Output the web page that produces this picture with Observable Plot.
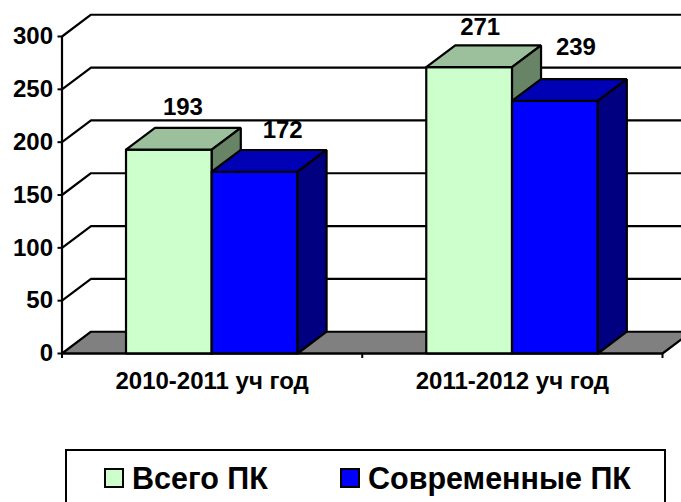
<!DOCTYPE html>
<html lang="ru">
<head>
<meta charset="utf-8">
<script src="https://cdn.jsdelivr.net/npm/d3@7"></script>
<script src="https://cdn.jsdelivr.net/npm/@observablehq/plot@0.6"></script>
<style>
html,body{margin:0;padding:0;background:#fff;width:681px;height:502px;overflow:hidden;font-family:"Liberation Sans",Arial,sans-serif;}
svg{display:block;}
#legend{position:relative;box-sizing:border-box;margin:4px 0 0 65px;width:601px;height:70px;border:2px solid #000;font-weight:bold;font-size:30.5px;color:#000;}
#legend .item{position:absolute;top:12px;display:flex;align-items:center;line-height:30px;white-space:nowrap;}
#legend .sw{box-sizing:border-box;width:20px;height:20px;border:2px solid #000;margin-right:8px;}
</style>
</head>
<body>
<div id="chart"></div>
<div id="legend"></div>
<script>
const categories = ["2010-2011 уч год", "2011-2012 уч год"];
const seriesNames = ["Всего ПК", "Современные ПК"];
const allPC = [193, 271];
const modernPC = [172, 239];
const yTicks = [0, 50, 100, 150, 200, 250, 300];

// Colours: front, top, side of each series
const palette = [
  {front: "#CCFFCC", top: "#9CC09C", side: "#688467"},
  {front: "#0000FF", top: "#0000B4", side: "#000080"}
];

// 3D look expressed in scale units
const depthX = 29 / 300.25, depthY = 20.6;
const gap = 0.2132, barW = 0.2857;

const poly = (pts, fill) => Plot.line([...pts, pts[0]], {
  x: d => d[0], y: d => d[1], fill, stroke: "#000", strokeWidth: 2.2,
  strokeLinejoin: "miter", curve: "linear"
});

const box = (x0, x1, v, c) => [
  poly([[x0, 0], [x1, 0], [x1, v], [x0, v]], c.front),
  poly([[x0, v], [x1, v], [x1 + depthX, v + depthY], [x0 + depthX, v + depthY]], c.top),
  poly([[x1, 0], [x1 + depthX, depthY], [x1 + depthX, v + depthY], [x1, v]], c.side)
];

const series = [allPC, modernPC];
const bars = categories.flatMap((_, i) => series.flatMap((vals, s) => {
  const x0 = i + gap + s * barW;
  return box(x0, x0 + barW, vals[i], palette[s]);
}));

const labelNudge = [
  [{dx: 14, dy: -42}, {dx: 28, dy: -41}],
  [{dx: 11, dy: -40}, {dx: 21, dy: -54}]
];
const valueLabels = categories.flatMap((_, i) => series.map((vals, s) => Plot.text([vals[i]], {
  x: i + gap + (s + 0.5) * barW,
  y: d => d,
  text: d => String(d),
  dx: labelNudge[i][s].dx,
  dy: labelNudge[i][s].dy,
  fontSize: 24,
  fontWeight: "bold",
  fill: "#000"
})));

const plot = Plot.plot({
  width: 681,
  height: 445,
  marginLeft: 61.5,
  marginRight: 19,
  marginTop: 36,
  marginBottom: 92,
  style: {fontFamily: "'Liberation Sans', Arial, sans-serif", background: "#fff", color: "#000"},
  x: {type: "linear", domain: [0, 2]},
  y: {domain: [0, 300]},
  marks: [
    poly([[0, 0], [depthX, depthY], [2 + depthX, depthY], [2, 0]], "#808080"),
    ...yTicks.filter(t => t > 0).map(t => Plot.line(
      [[0, t], [depthX, t + depthY], [2 + depthX, t + depthY]],
      {x: d => d[0], y: d => d[1], stroke: "#000", strokeWidth: 2.2})),
    Plot.ruleX([0], {y1: 0, y2: 300, stroke: "#000", strokeWidth: 2.2}),
    ...bars,
    Plot.ruleY([0], {x1: 0, x2: 2, stroke: "#000", strokeWidth: 2.2}),
    Plot.axisY({ticks: yTicks, label: null, tickSize: 4, tickPadding: 5, fontSize: 24, fontWeight: "bold", strokeWidth: 2, stroke: "#000", fill: "#000"}),
    Plot.axisX({ticks: [0, 1, 2], label: null, tickSize: 5, tickFormat: () => "", strokeWidth: 2, stroke: "#000"}),
    Plot.text(categories, {
      x: (d, i) => i + 0.5, y: 0, text: d => d, dy: 28,
      fontSize: 24, fontWeight: "bold", fill: "#000"
    }),
    ...valueLabels
  ]
});
document.getElementById("chart").appendChild(plot);

const legend = document.getElementById("legend");
const lefts = [37, 273];
seriesNames.forEach((name, i) => {
  const item = document.createElement("div");
  item.className = "item";
  item.style.left = lefts[i] + "px";
  const sw = document.createElement("span");
  sw.className = "sw";
  sw.style.background = palette[i].front;
  const t = document.createElement("span");
  t.textContent = name;
  item.append(sw, t);
  legend.appendChild(item);
});
</script>
</body>
</html>
